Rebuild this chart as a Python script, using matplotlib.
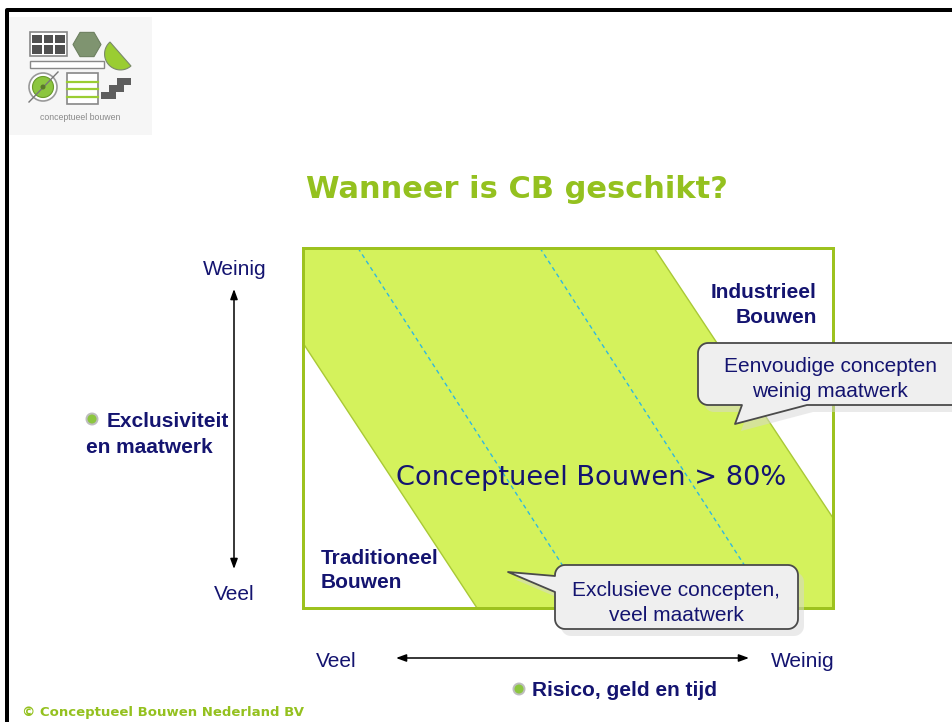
import numpy as np
import matplotlib.pyplot as plt
from matplotlib.patches import Polygon, Rectangle, Circle, RegularPolygon

# Texts of the slide
title = "Wanneer is CB geschikt?"
center_label = "Conceptueel Bouwen > 80%"
corner_labels = [["Industrieel", "Bouwen"], ["Traditioneel", "Bouwen"]]
callout_texts = [["Eenvoudige concepten", "weinig maatwerk"], ["Exclusieve concepten,", "veel maatwerk"]]
y_axis_title = ["Exclusiviteit", "en maatwerk"]
y_axis_ends = ["Weinig", "Veel"]
x_axis_title = "Risico, geld en tijd"
x_axis_ends = ["Veel", "Weinig"]
footer = "\u00a9 Conceptueel Bouwen Nederland BV"
logo_text = "conceptueel bouwen"

NAVY = '#141470'
GREEN = '#94c11f'
ARIAL = ['Liberation Sans', 'DejaVu Sans']

W, H = 952, 722
fig = plt.figure(figsize=(W / 100, H / 100), dpi=100)
ax = fig.add_axes([0, 0, 1, 1])
ax.set_xlim(0, W)
ax.set_ylim(H, 0)
ax.axis('off')

PX = 0.72  # one pixel in points


def rounded_pts(x0, y0, x1, y1, r, n=10):
    def arc(cx, cy, a0, a1):
        a = np.radians(np.linspace(a0, a1, n))
        return list(zip(cx + r * np.cos(a), cy + r * np.sin(a)))
    return (arc(x0 + r, y0 + r, 180, 270), arc(x1 - r, y0 + r, 270, 360),
            arc(x1 - r, y1 - r, 0, 90), arc(x0 + r, y1 - r, 90, 180))


def lines(x, y, rows, step, **kw):
    for i, row in enumerate(rows):
        ax.text(x, y + i * step, row, va='baseline', color=NAVY, fontsize=15,
                family=ARIAL, zorder=7, **kw)


def callout(x0, y0, x1, y1, tail, side, rows, tx, ty):
    tl, tr, br, bl = rounded_pts(x0, y0, x1, y1, 10)
    if side == 'bottom':
        pts = tl + tr + br + tail + bl
    else:
        pts = tl + tr + br + bl + tail
    pts = np.array(pts)
    ax.add_patch(Polygon(pts + [6, 7], closed=True, facecolor='#d6d6d6', alpha=0.5,
                         edgecolor='none', zorder=5))
    ax.add_patch(Polygon(pts, closed=True, facecolor='#efefef', edgecolor='#4a4a4a',
                         lw=1.3, zorder=6, joinstyle='round'))
    lines(tx, ty, rows, 25, ha='center')


# black slide frame
ax.plot([6.5, 6.5, W], [H, 9.5, 9.5], color='black', lw=4 * PX, solid_capstyle='butt', zorder=1)

# ---- logo ----
ax.add_patch(Rectangle((9, 17), 143, 118, facecolor='#f6f6f6', edgecolor='none', zorder=1))
ax.add_patch(Rectangle((29.5, 32), 37, 24, facecolor='white', edgecolor='#888888', lw=1.2, zorder=2))
for r_ in range(2):
    for c_ in range(3):
        ax.add_patch(Rectangle((32 + c_ * 11.5, 34.5 + r_ * 10.5), 9.5, 8.5,
                               facecolor='#505050', edgecolor='none', zorder=3))
ax.add_patch(RegularPolygon((87, 44.5), 6, radius=14, orientation=np.pi / 6,
                            facecolor='#7f9470', edgecolor='#6d8060', lw=0.8, zorder=2))
A, B = np.array([110, 42]), np.array([131, 66])
C = (A + B) / 2
u = (B - A) / np.linalg.norm(B - A)
nrm = np.array([-u[1], u[0]])
rr = np.linalg.norm(B - A) / 2
t = np.linspace(0, np.pi, 30)
wedge = C + rr * (np.cos(t)[:, None] * u + np.sin(t)[:, None] * nrm)
ax.add_patch(Polygon(wedge, closed=True, facecolor='#9acd32', edgecolor='#7a8a6a', lw=0.8, zorder=2))
ax.add_patch(Rectangle((29.5, 61), 74, 7, facecolor='white', edgecolor='#888888', lw=1.0, zorder=2))
ax.add_patch(Circle((43, 87), 14, facecolor='white', edgecolor='#999999', lw=1.2, zorder=2))
ax.add_patch(Circle((43, 87), 10.5, facecolor='#8cc63f', edgecolor='#6a9a2a', lw=0.8, zorder=3))
ax.plot([29, 58], [102, 72], color='#777777', lw=1.0, zorder=4)
ax.add_patch(Circle((43, 87), 2.5, facecolor='#5a7a2a', edgecolor='none', zorder=4))
ax.add_patch(Rectangle((66.5, 73), 31.5, 31, facecolor='white', edgecolor='#888888', lw=1.2, zorder=2))
for yy in [81.5, 89, 96.5]:
    ax.plot([67, 97.5], [yy, yy], color='#9acd32', lw=1.6, zorder=3)
stairs = [(101, 99), (101, 92), (109, 92), (109, 85), (117, 85), (117, 78), (131, 78),
          (131, 85), (124, 85), (124, 92), (116, 92), (116, 99)]
ax.add_patch(Polygon(stairs, closed=True, facecolor='#5e5e5e', edgecolor='none', zorder=2))
ax.text(80, 118, logo_text, ha='center', va='center', fontsize=6.3, color='#8a8a8a',
        family=ARIAL, zorder=3)

# ---- title ----
ax.text(517, 198, title, ha='center', va='baseline', color=GREEN, fontsize=22,
        family='DejaVu Sans', fontweight='bold', zorder=3)

# ---- main diagram ----
x0, y0, x1, y1 = 303, 248, 833, 608
ax.add_patch(Rectangle((x0, y0), x1 - x0, y1 - y0, facecolor='white', edgecolor='none', zorder=2))
band = [(x0, y0), (654, y0), (x1, 518), (x1, y1), (477, y1), (x0, 343)]
ax.add_patch(Polygon(band, closed=True, facecolor='#d4f25c', edgecolor='#a9c936',
                     lw=1.0, zorder=2))
for xs in [358, 540]:
    ax.plot([xs, xs + 232], [y0, y1], color='#2fb8e0', lw=1.0, ls=(0, (3, 2.5)), zorder=3)
ax.add_patch(Rectangle((x0, y0), x1 - x0, y1 - y0, facecolor='none', edgecolor='#9dc21f',
                       lw=3 * PX, zorder=4))

ax.text(591, 485, center_label, ha='center', va='baseline', color=NAVY, fontsize=19.6,
        family='DejaVu Sans', zorder=4)
lines(817, 298, corner_labels[0], 25, ha='right', fontweight='bold')
lines(321, 564, corner_labels[1], 24, ha='left', fontweight='bold')

callout(698, 343, 985, 405, [(807, 405), (735, 424), (742, 405)], 'bottom',
        callout_texts[0], 830, 372)
callout(555, 565, 798, 629, [(555, 592), (508, 572), (555, 576)], 'left',
        callout_texts[1], 676, 596)

# ---- y axis ----
ax.annotate('', xy=(234, 289), xytext=(234, 569),
            arrowprops=dict(arrowstyle='<|-|>,head_length=0.6,head_width=0.22', color='black',
                            lw=1.1, shrinkA=0, shrinkB=0))
ax.text(235, 275, y_axis_ends[0], ha='center', va='baseline', color=NAVY, fontsize=15, family=ARIAL)
ax.text(234, 600, y_axis_ends[1], ha='center', va='baseline', color=NAVY, fontsize=15, family=ARIAL)
ax.add_patch(Circle((92, 419), 5.5, facecolor='#8cc63f', edgecolor='#bdbdbd', lw=1.4, zorder=4))
ax.text(107, 427, y_axis_title[0], ha='left', va='baseline', color=NAVY, fontsize=15,
        family=ARIAL, fontweight='bold')
ax.text(86, 453, y_axis_title[1], ha='left', va='baseline', color=NAVY, fontsize=15,
        family=ARIAL, fontweight='bold')

# ---- x axis ----
ax.annotate('', xy=(396, 658), xytext=(749, 658),
            arrowprops=dict(arrowstyle='<|-|>,head_length=0.6,head_width=0.22', color='black',
                            lw=1.1, shrinkA=0, shrinkB=0))
ax.text(336, 667, x_axis_ends[0], ha='center', va='baseline', color=NAVY, fontsize=15, family=ARIAL)
ax.text(803, 667, x_axis_ends[1], ha='center', va='baseline', color=NAVY, fontsize=15, family=ARIAL)
ax.add_patch(Circle((519, 689), 5.5, facecolor='#8cc63f', edgecolor='#bdbdbd', lw=1.4, zorder=4))
ax.text(532, 696, x_axis_title, ha='left', va='baseline', color=NAVY, fontsize=15,
        family=ARIAL, fontweight='bold')

# ---- footer ----
ax.text(22, 716, footer, ha='left', va='baseline', color=GREEN, fontsize=9.5,
        family='DejaVu Sans', fontweight='bold')

fig.savefig('out.png', dpi=100)
